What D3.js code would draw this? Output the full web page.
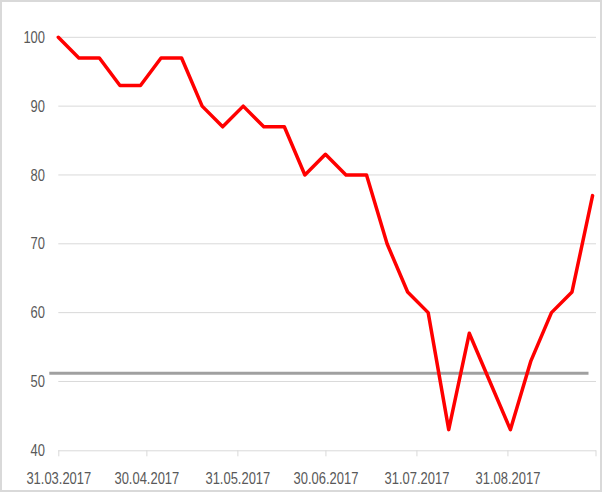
<!DOCTYPE html>
<html>
<head>
<meta charset="utf-8">
<script src="https://cdn.jsdelivr.net/npm/d3@7"></script>
<style>
  html, body { margin: 0; padding: 0; background: #fff; }
  svg { display: block; }
  text { font-family: "Liberation Sans", Arial, sans-serif; fill: #595959; }
</style>
</head>
<body>
<svg id="chart" width="605" height="494"></svg>
<script>
// ---- data ----
const dates = ["2017-03-31","2017-04-07","2017-04-14","2017-04-21","2017-04-28",
  "2017-05-05","2017-05-12","2017-05-19","2017-05-26","2017-06-02","2017-06-09",
  "2017-06-16","2017-06-23","2017-06-30","2017-07-07","2017-07-14","2017-07-21",
  "2017-07-28","2017-08-04","2017-08-11","2017-08-18","2017-08-25","2017-09-01",
  "2017-09-08","2017-09-15","2017-09-22","2017-09-29"];
const values = [100,97,97,93,93,97,97,90,87,90,87,87,80,83,80,80,70,63,60,43,57,50,43,53,60,63,77];
const referenceValue = [51.2];
const xDomain = ["2017-03-31","2017-09-30"];
const xTickDates = ["2017-03-31","2017-04-30","2017-05-31","2017-06-30","2017-07-31","2017-08-31","2017-09-30"];
const xTickLabels = ["31.03.2017","30.04.2017","31.05.2017","30.06.2017","31.07.2017","31.08.2017",""];
const yTicks = [40,50,60,70,80,90,100];

(function () {
// ---- layout ----
const svg = d3.select("#chart");
const mLeft = 58.3, mRight = 595.5, mTop = 37.3, mBottom = 450.3;
const parse = d3.utcParse("%Y-%m-%d");
const FONT = '"Liberation Sans", Arial, sans-serif';
const SX = 0.81; // horizontal condensing to mimic narrow Calibri-like labels

svg.append("rect").attr("x", 1).attr("y", 1).attr("width", 600).attr("height", 490)
  .attr("fill", "#fff").attr("stroke", "#d9d9d9").attr("stroke-width", 2);

const x = d3.scaleUtc().domain(xDomain.map(parse)).range([mLeft, mRight]);
const y = d3.scaleLinear().domain([40, 100]).range([mBottom, mTop]);

// gridlines
svg.append("g").selectAll("line").data(yTicks.filter(v => v !== 40)).join("line")
  .attr("x1", mLeft).attr("x2", mRight + 0.5)
  .attr("y1", d => y(d)).attr("y2", d => y(d))
  .attr("stroke", "#d9d9d9").attr("stroke-width", 1);

// y axis labels
const yAxis = d3.axisLeft(y).tickValues(yTicks).tickSize(0).tickPadding(0);
const gy = svg.append("g").attr("transform", "translate(45,0)").call(yAxis);
gy.select(".domain").remove();
gy.selectAll("text").attr("font-size", 16)
  .style("font-family", FONT).attr("fill", "#595959")
  .attr("transform", `scale(${SX},1)`);

// x axis
const xAxis = d3.axisBottom(x).tickValues(xTickDates.map(parse))
  .tickFormat((d, i) => xTickLabels[i]).tickSize(6).tickSizeOuter(0).tickPadding(16);
const gx = svg.append("g").attr("transform", `translate(0,${mBottom})`).call(xAxis);
gx.select(".domain").attr("stroke", "#d9d9d9").attr("d", `M${mLeft},0.5H${mRight + 0.5}`);
gx.selectAll(".tick line").attr("stroke", "#d9d9d9");
gx.selectAll("text").attr("font-size", 16)
  .style("font-family", FONT).attr("fill", "#595959")
  .attr("transform", `scale(${SX},1)`);

// reference line
svg.append("g").selectAll("line").data(referenceValue).join("line")
  .attr("x1", 49.3).attr("x2", 588.5)
  .attr("y1", d => y(d)).attr("y2", d => y(d))
  .attr("stroke", "#a0a0a0").attr("stroke-width", 3);

// data line
const data = dates.map((d, i) => ({ date: parse(d), value: values[i] }));
const line = d3.line().x(d => x(d.date)).y(d => y(d.value));
svg.append("path").datum(data).attr("d", line)
  .attr("fill", "none").attr("stroke", "#ff0000").attr("stroke-width", 3.5)
  .attr("stroke-linejoin", "round").attr("stroke-linecap", "round");
})();
</script>
</body>
</html>
